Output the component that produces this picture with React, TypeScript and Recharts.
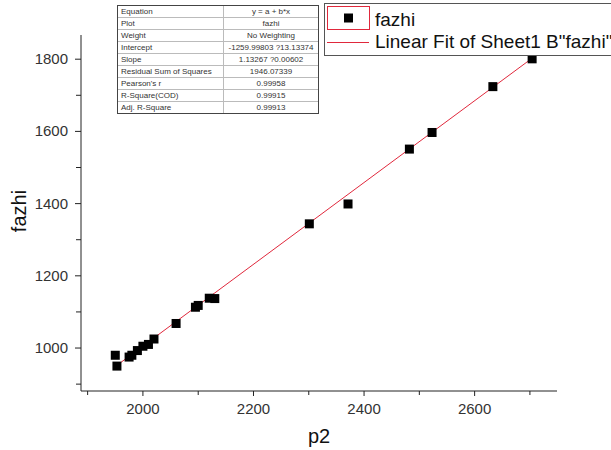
import React from "react";
import { ScatterChart, Scatter, XAxis, YAxis } from "recharts";

// measured points (p2 vs fazhi)
const P2 = [1950, 1953, 1975, 1980, 1990, 2000, 2010, 2020, 2060, 2095, 2100, 2120, 2130, 2301, 2371, 2482, 2523, 2633, 2704];
const FAZHI = [980, 950, 975, 980, 993, 1005, 1010, 1025, 1068, 1113, 1118, 1138, 1137, 1344, 1399, 1551, 1597, 1724, 1801];

const INTERCEPT = -1259.99803;
const SLOPE = 1.13267;

const STAT_LABELS = ["Equation", "Plot", "Weight", "Intercept", "Slope", "Residual Sum of Squares", "Pearson's r", "R-Square(COD)", "Adj. R-Square"];
const STAT_VALUES = ["y = a + b*x", "fazhi", "No Weighting", "-1259.99803 ?13.13374", "1.13267 ?0.00602", "1946.07339", "0.99958", "0.99915", "0.99913"];

const X_TICKS = [1900, 2000, 2100, 2200, 2300, 2400, 2500, 2600, 2700];
const X_MAJOR = [2000, 2200, 2400, 2600];
const Y_TICKS = [900, 1000, 1100, 1200, 1300, 1400, 1500, 1600, 1700, 1800];
const Y_MAJOR = [1000, 1200, 1400, 1600, 1800];

const FONT = '"Liberation Sans", Arial, sans-serif';
const RED = "#e0283c";

const points = P2.map((x, i) => ({ x, y: FAZHI[i] }));
const xMin = Math.min(...P2);
const xMax = Math.max(...P2);
const fit = [xMin, xMax].map((x) => ({ x, y: INTERCEPT + SLOPE * x }));

const SquareDot = (props: any) => {
  const { cx, cy } = props;
  if (cx == null || cy == null) return null;
  return <rect x={cx - 4.5} y={cy - 4.5} width={9} height={9} fill="#000" />;
};

const XTick = (props: any) => {
  const { x, y, payload } = props;
  const major = X_MAJOR.includes(payload.value);
  return (
    <g>
      <line x1={x} x2={x} y1={y} y2={y + (major ? 5 : 4)} stroke="#222" />
      {major && (
        <text x={x} y={y + 23} textAnchor="middle" fontSize={15} fill="#333" fontFamily={FONT}>
          {payload.value}
        </text>
      )}
    </g>
  );
};

const YTick = (props: any) => {
  const { x, y, payload } = props;
  const major = Y_MAJOR.includes(payload.value);
  return (
    <g>
      <line x1={x} x2={x - (major ? 6 : 5)} y1={y} y2={y} stroke="#222" />
      {major && (
        <text x={x - 13} y={y + 5} textAnchor="end" fontSize={15} fill="#333" fontFamily={FONT}>
          {payload.value}
        </text>
      )}
    </g>
  );
};

const LegendBox = () => (
  <svg width={288} height={53} style={{ position: "absolute", left: 324, top: 3, display: "block" }}>
    <rect x={0.5} y={0.5} width={290} height={52} fill="#fff" stroke="#555" />
    <rect x={3.5} y={3.5} width={42} height={23} fill="none" stroke={RED} />
    <rect x={20} y={10.5} width={9} height={9} fill="#000" />
    <text x={51} y={23} fontSize={19} fill="#111" fontFamily={FONT}>fazhi</text>
    <line x1={3} x2={45} y1={39.5} y2={39.5} stroke={RED} />
    <text x={51} y={45} fontSize={19} fill="#111" fontFamily={FONT}>Linear Fit of Sheet1 B"fazhi"</text>
  </svg>
);

const StatsTable = () => (
  <div
    style={{
      position: "absolute",
      left: 117,
      top: 5,
      width: 200,
      border: "1px solid #444",
      background: "#fff",
      fontFamily: FONT,
      fontSize: 8,
      color: "#333",
    }}
  >
    {STAT_LABELS.map((label, i) => (
      <div
        key={label}
        style={{
          display: "flex",
          height: 11,
          lineHeight: "11px",
          borderTop: i === 0 ? "none" : "1px solid #bbb",
        }}
      >
        <div style={{ width: 102, paddingLeft: 3, borderRight: "1px solid #bbb", whiteSpace: "nowrap" }}>{label}</div>
        <div style={{ flex: 1, textAlign: "center", whiteSpace: "nowrap" }}>{STAT_VALUES[i]}</div>
      </div>
    ))}
  </div>
);

export default function App() {
  return (
    <div style={{ position: "absolute", left: 0, top: 0, width: 611, height: 450, background: "#fff", overflow: "hidden" }}>
      <ScatterChart width={611} height={450} margin={{ top: 35, right: 54, bottom: 0, left: 0 }}>
        <XAxis
          type="number"
          dataKey="x"
          domain={[1888, 2749]}
          ticks={X_TICKS}
          interval={0}
          tickSize={0}
          tickMargin={0}
          tick={<XTick />}
          height={59}
          stroke="#222"
          allowDataOverflow
        />
        <YAxis
          type="number"
          dataKey="y"
          domain={[881, 1867]}
          ticks={Y_TICKS}
          interval={0}
          tickSize={0}
          tickMargin={0}
          tick={<YTick />}
          width={81}
          stroke="#222"
          allowDataOverflow
        />
        <Scatter data={fit} line={{ stroke: RED, strokeWidth: 1 }} shape={() => null} isAnimationActive={false} />
        <Scatter data={points} shape={<SquareDot />} isAnimationActive={false} />
        <text x={319} y={443} textAnchor="middle" fontSize={20} fill="#111" fontFamily={FONT}>p2</text>
        <text
          x={26}
          y={211}
          textAnchor="middle"
          fontSize={20}
          fill="#111"
          fontFamily={FONT}
          transform="rotate(-90 26 211)"
        >
          fazhi
        </text>
      </ScatterChart>
      <StatsTable />
      <LegendBox />
    </div>
  );
}
